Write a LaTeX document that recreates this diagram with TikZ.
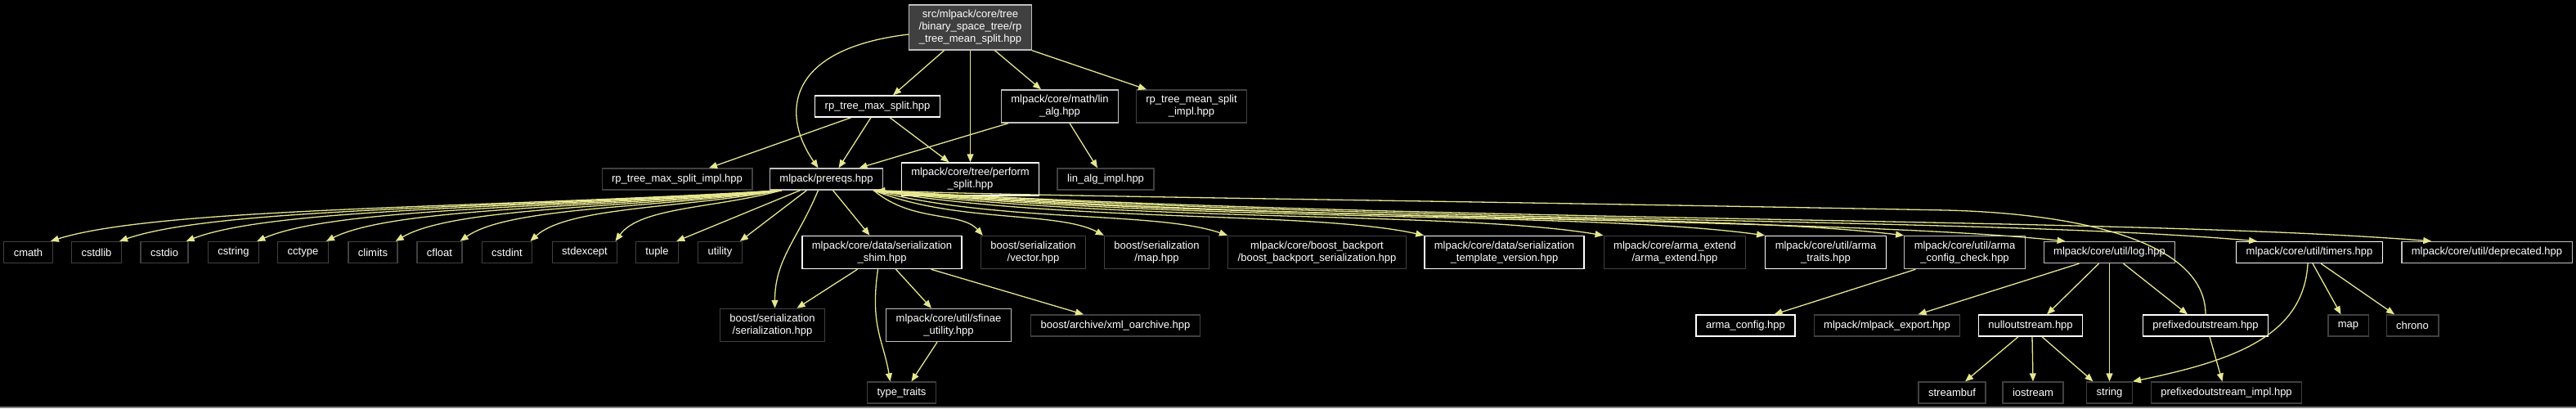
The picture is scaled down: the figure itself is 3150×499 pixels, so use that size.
\documentclass[tikz,border=0pt]{standalone}
\usepackage{fontspec}
\setmainfont{Liberation Sans}
\usetikzlibrary{arrows.meta}
\definecolor{edgeyel}{HTML}{E6E68F}
\definecolor{darkgrey}{HTML}{404040}
\definecolor{lightgrey}{HTML}{BFBFBF}

\begin{document}
\begin{tikzpicture}[x=1pt, y=-1pt,
    file/.style={rectangle, fill=black, text=white, line width=1.3pt, inner xsep=12pt, inner ysep=6.5pt,
        minimum height=26pt, align=center, font=\fontsize{13}{15}\selectfont},
    docfile/.style={file, draw=white},
    greyfile/.style={file, draw=lightgrey},
    extfile/.style={file, draw=darkgrey},
    dep/.style={draw=edgeyel, line width=1.3pt, -{Triangle[length=10pt,width=8pt]}}
  ]

    \fill[black] (0,0) rectangle (3150,499);
    \useasboundingbox (0,0) rectangle (3150,499);
    \draw[gray, line width=2pt] (0,498) -- (3150,498);

    %top
    \node[greyfile, fill=darkgrey] (root) at (1186.5,33.5) {src/mlpack/core/tree\\/binary\_space\_tree/rp\\\_tree\_mean\_split.hpp};
    \node[docfile]  (maxsplit) at (1073,130)   {rp\_tree\_max\_split.hpp};
    \node[greyfile] (linalg)   at (1296,130)   {mlpack/core/math/lin\\\_alg.hpp};
    \node[extfile]  (meanimpl) at (1457,130)   {rp\_tree\_mean\_split\\\_impl.hpp};
    \node[extfile]  (maximpl)  at (828,219)    {rp\_tree\_max\_split\_impl.hpp};
    \node[greyfile] (prereqs)  at (1010.5,219) {mlpack/prereqs.hpp};
    \node[docfile]  (perform)  at (1186.5,219) {mlpack/core/tree/perform\\\_split.hpp};
    \node[extfile]  (linimpl)  at (1352,219)   {lin\_alg\_impl.hpp};

    %std headers
    \foreach \n/\x in {cmath/34.5, cstdlib/118, cstdio/201, cstring/285.5, cctype/370.5, climits/456,
        cfloat/537.5, cstdint/620, stdexcept/715, tuple/803.5, utility/880.5} {
        \node[extfile] (\n) at (\x,308.5) {\n};
    }
    %row 3
    \node[docfile]  (shim)       at (1078.5,308.5) {mlpack/core/data/serialization\\\_shim.hpp};
    \node[extfile]  (bvector)    at (1263.5,308.5) {boost/serialization\\/vector.hpp};
    \node[extfile]  (bmap)       at (1414.5,308.5) {boost/serialization\\/map.hpp};
    \node[extfile]  (backport)   at (1610.5,308.5) {mlpack/core/boost\_backport\\/boost\_backport\_serialization.hpp};
    \node[docfile]  (tplver)     at (1839.5,308.5) {mlpack/core/data/serialization\\\_template\_version.hpp};
    \node[extfile]  (armaext)    at (2048,308.5)   {mlpack/core/arma\_extend\\/arma\_extend.hpp};
    \node[docfile]  (armatraits) at (2232.5,308.5) {mlpack/core/util/arma\\\_traits.hpp};
    \node[greyfile] (armacheck)  at (2402.5,308.5) {mlpack/core/util/arma\\\_config\_check.hpp};
    \node[greyfile] (log)        at (2579.5,308.5) {mlpack/core/util/log.hpp};
    \node[docfile]  (timers)     at (2824,308.5)   {mlpack/core/util/timers.hpp};
    \node[greyfile] (deprecated) at (3041,308.5)   {mlpack/core/util/deprecated.hpp};
    %row 4
    \node[extfile]  (bser)    at (944.5,397.5) {boost/serialization\\/serialization.hpp};
    \node[greyfile] (sfinae)  at (1160,397.5)  {mlpack/core/util/sfinae\\\_utility.hpp};
    \node[extfile]  (xmlo)    at (1364,398)    {boost/archive/xml\_oarchive.hpp};
    \node[docfile]  (armacfg) at (2134.5,398)  {arma\_config.hpp};
    \node[extfile]  (export)  at (2307.5,398)  {mlpack/mlpack\_export.hpp};
    \node[docfile]  (nullos)  at (2483,398)    {nulloutstream.hpp};
    \node[docfile]  (prefos)  at (2697,398)    {prefixedoutstream.hpp};
    \node[extfile]  (map)     at (2871.5,398)  {map};
    \node[extfile]  (chrono)  at (2950,398)    {chrono};
    %row 5
    \node[extfile] (typetr)    at (1102.5,480) {type\_traits};
    \node[extfile] (streambuf) at (2387,480)   {streambuf};
    \node[extfile] (iostream)  at (2486,480)   {iostream};
    \node[extfile] (string)    at (2579.5,480) {string};
    \node[extfile] (prefimpl)  at (2722.5,480) {prefixedoutstream\_impl.hpp};

    %root edges
    \draw[dep] ([xshift=-32pt]root.south) -- ([xshift=19pt]maxsplit.north);
    \draw[dep] ([yshift=-8.5pt]root.west) .. controls (960,60) and (955,140) .. ([xshift=-10pt]prereqs.north);
    \draw[dep] (root.south) -- (perform.north);
    \draw[dep] ([xshift=30pt]root.south) -- ([xshift=-23pt]linalg.north);
    \draw[dep] (root.south east) -- ([xshift=-55pt]meanimpl.north);
    \draw[dep] ([xshift=-32pt]maxsplit.south) -- ([xshift=39pt]maximpl.north);
    \draw[dep] ([xshift=-8pt]maxsplit.south) -- ([xshift=15pt]prereqs.north);
    \draw[dep] ([xshift=15pt]maxsplit.south) -- ([xshift=-26pt]perform.north);
    \draw[dep] ([xshift=-63pt]linalg.south) -- ([xshift=40pt]prereqs.north);
    \draw[dep] ([xshift=12pt]linalg.south) -- ([xshift=-10pt]linimpl.north);

    %prereqs edges
    \foreach \n/\d in {cmath/893, cstdlib/809, cstdio/727, cstring/641, cctype/555, climits/471,
        cfloat/392, cstdint/306, stdexcept/202} {
        \draw[dep] ([xshift=15pt]prereqs.south west) .. controls +({-0.4*\d},22) and +({0.15*\d},-42) .. ([xshift=-3pt]\n.north east);
    }
    \draw[dep] ([xshift=-32pt]prereqs.south) -- ([xshift=-3pt]tuple.north east);
    \draw[dep] ([xshift=-24pt]prereqs.south) -- ([xshift=-3pt]utility.north east);
    \draw[dep] ([xshift=-10pt]prereqs.south) .. controls +(-25,60) and +(0,-60) .. ([xshift=3pt]bser.north);
    \draw[dep] ([xshift=8pt]prereqs.south) -- ([xshift=-15pt]shim.north);
    \foreach \n/\s/\d in {bvector/3/136, bmap/0/284, backport/0/436, tplver/0/675, armaext/0/895,
        armatraits/0/1092, armacheck/0/1262, log/27/1459, timers/26/1694, deprecated/37/1908} {
        \draw[dep] ([xshift=-12pt]prereqs.south east) .. controls +({0.35*\d},40) and +({-0.2*\d},-30) .. ([xshift=\s]\n.north west);
    }

    %serialization edges
    \draw[dep] ([xshift=-30pt]shim.south) -- ([xshift=30pt]bser.north);
    \draw[dep] ([xshift=-5pt]shim.south) .. controls +(-10,70) and +(-8,-50) .. ([xshift=-14pt]typetr.north);
    \draw[dep] ([xshift=17pt]shim.south) -- ([xshift=-21pt]sfinae.north);
    \draw[dep] ([xshift=60pt]shim.south) -- ([xshift=-39pt]xmlo.north);
    \draw[dep] ([xshift=-14pt]sfinae.south) -- ([xshift=12pt]typetr.north);

    %util edges
    \draw[dep] ([xshift=-60pt]armacheck.south) -- ([xshift=35pt]armacfg.north);
    \draw[dep] ([xshift=-37pt]log.south) -- ([xshift=38pt]export.north);
    \draw[dep] ([xshift=-13pt]log.south) -- ([xshift=20pt]nullos.north);
    \draw[dep] (log.south) -- (string.north);
    \draw[dep] ([xshift=17pt]log.south) -- ([xshift=-22pt]prefos.north);
    \draw[dep] ([xshift=-15pt]nullos.south) -- ([xshift=16pt]streambuf.north);
    \draw[dep] ([xshift=2pt]nullos.south) -- (iostream.north);
    \draw[dep] ([xshift=14pt]nullos.south) -- ([xshift=-20pt]string.north);
    \draw[dep] ([xshift=5pt]prefos.south) -- ([xshift=-5pt]prefimpl.north);
    \draw[dep] (prefos.north) .. controls +(0,-90) and +(160,4) .. (2380,257)
        .. controls (1700,244) and (1250,240) .. ([xshift=-8pt]prereqs.south east);
    \draw[dep] ([xshift=-2pt]timers.south) .. controls +(-5,90) and +(120,-25) .. (string.north east);
    \draw[dep] ([xshift=4pt]timers.south) -- ([xshift=-9pt]map.north);
    \draw[dep] ([xshift=14pt]timers.south) -- ([xshift=-22pt]chrono.north);

\end{tikzpicture}
\end{document}
